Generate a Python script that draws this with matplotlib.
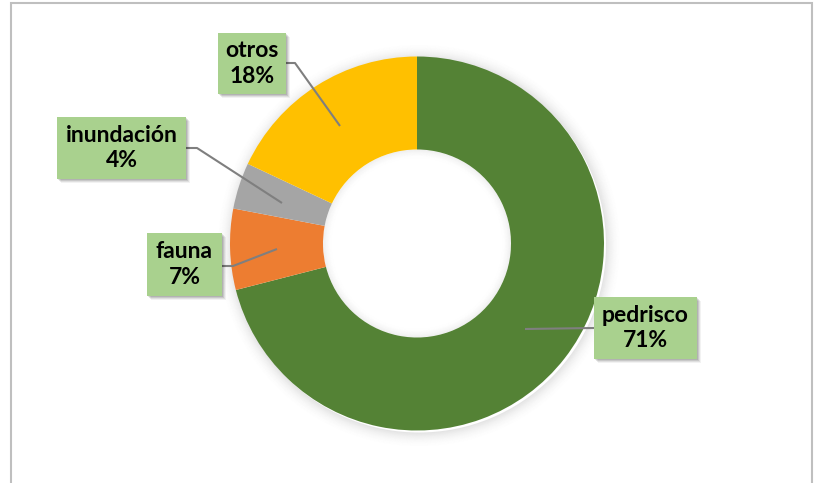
import matplotlib
matplotlib.use("Agg")
import matplotlib.pyplot as plt
from matplotlib.patches import Rectangle, Wedge

# ---- data ----
categories = ["pedrisco", "fauna", "inundación", "otros"]
values = [71, 7, 4, 18]
colors = ["#548235", "#ED7D31", "#A5A5A5", "#FFC000"]

# ---- layout (pixel coords, y from top) ----
W, H = 815, 483
cx, cy_pix = 417, 243.5
r_out, r_in = 187, 94
# label boxes: (x0, y0, x1, y1) in pixels from top
boxes = {
    "pedrisco": (594, 297, 697, 359),
    "fauna": (147, 233, 222, 296),
    "inundación": (57, 117, 186, 179),
    "otros": (218, 33, 286, 94),
}
# leader lines (pixel coords from top)
leaders = {
    "pedrisco": [(594, 328), (525, 329)],
    "fauna": [(222, 266), (233, 266), (277, 249)],
    "inundación": [(186, 148), (197, 148), (282, 203)],
    "otros": [(286, 63), (295, 63), (340, 126)],
}

def Y(y):
    return H - y

fig = plt.figure(figsize=(W / 100, H / 100), dpi=100)
ax = fig.add_axes([0, 0, 1, 1])

cy = Y(cy_pix)
# outer glow shadow
sx, sy = 2, -2
n = 16
for k in range(n):
    a = 0.10 * (1 - k / n) ** 2
    ax.add_patch(Wedge((cx + sx, cy + sy), r_out + k + 1, 0, 360, width=1.05,
                       facecolor="#000000", edgecolor="none", alpha=a, zorder=1))
# inner glow (inside the hole)
for k in range(10):
    a = 0.06 * (1 - k / 10) ** 2
    ax.add_patch(Wedge((cx, cy), r_in - k, 0, 360, width=1.05,
                       facecolor="#000000", edgecolor="none", alpha=a, zorder=1))

wedges, _ = ax.pie(values, colors=colors, startangle=90, counterclock=False,
                   radius=r_out, center=(cx, cy),
                   wedgeprops=dict(width=r_out - r_in, edgecolor="none", zorder=2),
                   frame=True)
for w in wedges:
    w.set_zorder(2)

font = dict(family=["Lato", "DejaVu Sans"], weight="bold", size=16.5, color="#000000")

for cat, val in zip(categories, values):
    pts = leaders[cat]
    ax.plot([p[0] for p in pts], [Y(p[1]) for p in pts], color="#7F7F7F", lw=1.5,
            zorder=3, solid_capstyle="butt")
    x0, y0, x1, y1 = boxes[cat]
    # soft shadow
    for k, a in enumerate([0.10, 0.10, 0.08, 0.05]):
        ax.add_patch(Rectangle((x0 + 1 + k, Y(y1) - 1 - k), x1 - x0, y1 - y0,
                               facecolor="#000000", alpha=a, edgecolor="none", zorder=4))
    ax.add_patch(Rectangle((x0, Y(y1)), x1 - x0, y1 - y0,
                           facecolor="#A9D18E", edgecolor="none", zorder=5))
    ax.text((x0 + x1) / 2, Y((y0 + y1) / 2), f"{cat}\n{val}%", ha="center", va="center",
            linespacing=1.25, zorder=6, **font)

# chart frame
ax.add_patch(Rectangle((10.5, -10), 801.5, Y(3) + 10, facecolor="none",
                       edgecolor="#BFBFBF", lw=1.5, zorder=7))

ax.set_xlim(0, W)
ax.set_ylim(0, H)
ax.set_aspect("auto")
ax.axis("off")
fig.savefig("out.png", dpi=100, facecolor="white")
